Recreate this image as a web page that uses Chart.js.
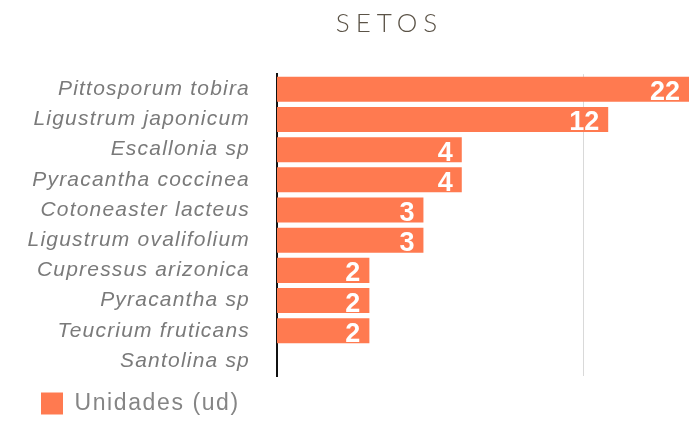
<!DOCTYPE html>
<html>
<head>
<meta charset="utf-8">
<script src="https://cdn.jsdelivr.net/npm/chart.js@4"></script>
<style>
html,body{margin:0;padding:0;background:#fff;}
#wrap{width:699px;height:423px;}
</style>
</head>
<body>
<div id="wrap"><canvas id="c"></canvas></div>
<script>
const categories = ["Pittosporum tobira","Ligustrum japonicum","Escallonia sp","Pyracantha coccinea","Cotoneaster lacteus","Ligustrum ovalifolium","Cupressus arizonica","Pyracantha sp","Teucrium fruticans","Santolina sp"];
const unidades = [22,12,4,4,3,3,2,2,2,0];
const seriesName = "Unidades (ud)";
const chartTitle = "SETOS";

const barLabels = {
  id:'barLabels',
  afterDatasetsDraw(chart){
    const ctx = chart.ctx;
    const meta = chart.getDatasetMeta(0);
    ctx.save();
    ctx.fillStyle = '#ffffff';
    ctx.font = 'bold 27px "Liberation Sans", Arial, sans-serif';
    ctx.textAlign = 'right';
    ctx.textBaseline = 'alphabetic';
    meta.data.forEach((el,i)=>{
      const v = chart.data.datasets[0].data[i];
      if(!v) return;
      ctx.fillText(String(v), el.x - 9, el.y + 11);
    });
    ctx.restore();
  }
};

function wrapDraw(obj, key, fn){
  if(!obj || obj['_w_'+key]) return;
  const orig = obj[key];
  obj[key] = function(){
    const ctx = this.ctx;
    ctx.save();
    fn(ctx);
    const r = orig.apply(this, arguments);
    ctx.restore();
    return r;
  };
  obj['_w_'+key] = true;
}

const spacing = {
  id:'spacing',
  beforeDraw(chart){
    wrapDraw(chart.titleBlock, 'draw', (ctx)=>{ ctx.letterSpacing='6px'; ctx.translate(45,0); });
    wrapDraw(chart.scales.y, 'drawLabels', (ctx)=>{ ctx.letterSpacing='1.2px'; });
    wrapDraw(chart.legend, 'draw', (ctx)=>{ ctx.letterSpacing='1.6px'; ctx.translate(31,2); });
  }
};

new Chart(document.getElementById('c'), {
  type:'bar',
  data:{
    labels:categories,
    datasets:[{
      label:seriesName,
      data:unidades,
      backgroundColor:'#ff7a50',
      borderWidth:0,
      categoryPercentage:1,
      barPercentage:0.83
    }]
  },
  options:{
    indexAxis:'y',
    responsive:true,
    maintainAspectRatio:false,
    animation:false,
    layout:{padding:{left:0,right:10,top:0,bottom:0}},
    scales:{
      x:{
        type:'logarithmic',
        min:1,
        max:22,
        ticks:{display:false},
        grid:{
          drawTicks:false,
          lineWidth:1,
          color:(c)=> (c.tick && c.tick.value===10) ? '#d9d9d9' : 'rgba(0,0,0,0)'
        },
        border:{display:false},
        afterFit(scale){ scale.height = 4; }
      },
      y:{
        grid:{display:false,drawTicks:false},
        border:{display:true,color:'#111',width:2},
        ticks:{
          color:'#7a7a7a',
          padding:27,
          font:{family:'"Liberation Sans", Arial, sans-serif',size:21,style:'italic'}
        },
        afterFit(scale){ scale.width = 277; }
      }
    },
    plugins:{
      title:{
        display:true,
        text:chartTitle,
        color:'#5b5347',
        font:{family:'Lato, "Open Sans", sans-serif',size:26,weight:'300'},
        padding:{top:8,bottom:35}
      },
      legend:{
        display:true,
        position:'bottom',
        align:'start',
        labels:{
          boxWidth:22,
          boxHeight:22,
          color:'#858585',
          padding:10,
          font:{family:'"Liberation Sans", Arial, sans-serif',size:23}
        }
      },
      tooltip:{enabled:false}
    }
  },
  plugins:[barLabels, spacing]
});
</script>
</body>
</html>
